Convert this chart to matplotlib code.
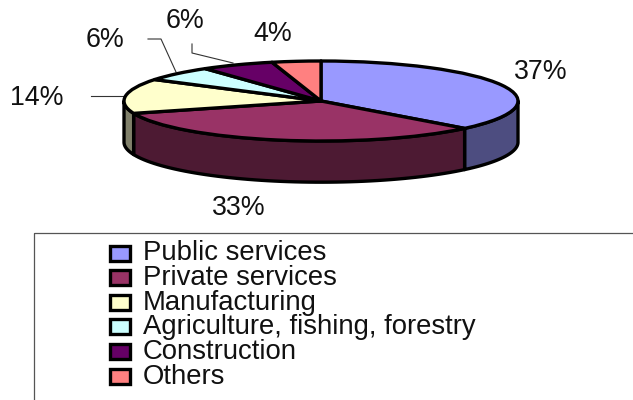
import numpy as np
import matplotlib
matplotlib.use("Agg")
import matplotlib.pyplot as plt
from matplotlib.patches import Rectangle

plt.rcParams['font.family'] = ['Liberation Sans', 'DejaVu Sans']

sectors = ["Public services", "Private services", "Manufacturing",
           "Agriculture, fishing, forestry", "Construction", "Others"]
shares = [37, 33, 14, 6, 6, 4]
top_colors = ["#9999ff", "#993366", "#ffffcc", "#ccffff", "#660066", "#ff8080"]
side_colors = ["#4d4d80", "#4d1a33", "#80806a", "#668080", "#330033", "#804040"]

W, H = 633, 400
fig = plt.figure(figsize=(W / 100, H / 100), dpi=100)

# overlay in pixel units for labels, leader lines and the legend
page = fig.add_axes([0, 0, 1, 1])
page.set_xlim(0, W)
page.set_ylim(H, 0)
page.axis("off")

# pie top is flattened by letting the axes stretch the unit circle
left, right, top, bottom = 124, 518, 61, 141
ax = fig.add_axes([left / W, 1 - bottom / H, (right - left) / W, (bottom - top) / H])
edge = 2.4
ax.pie(shares, colors=top_colors, startangle=90, counterclock=False, radius=1,
       wedgeprops=dict(edgecolor="black", linewidth=edge, joinstyle="round", clip_on=False))
ax.set_aspect("auto")
ax.set_xlim(-1, 1)
ax.set_ylim(-1, 1)
ax.axis("off")

# front rim, only the part between 90 and 270 degrees from twelve o'clock shows
depth = 1.03
ends = np.cumsum(shares) / np.sum(shares) * 360
starts = np.r_[0, ends[:-1]]
for a0, a1, c in zip(starts, ends, side_colors):
    a0, a1 = max(a0, 90), min(a1, 270)
    if a1 <= a0:
        continue
    t = np.radians(np.linspace(a0, a1, 60))
    xs = np.sin(t)
    ys = np.cos(t)
    ax.fill(np.r_[xs, xs[::-1]], np.r_[ys, ys[::-1] - depth], facecolor=c,
            edgecolor="black", linewidth=edge, joinstyle="round", clip_on=False, zorder=0.5)

# leader lines
leader_x = [[91, 125], [148, 161, 176], [192, 192, 233]]
leader_y = [[96, 96], [39, 39, 72], [44, 53, 63]]
for lx, ly in zip(leader_x, leader_y):
    page.plot(lx, ly, color="#333333", linewidth=0.8)

# percent labels
label_x = [541, 239, 37, 105, 185, 273]
label_y = [72, 208, 98, 40, 21, 34]
for v, x, y in zip(shares, label_x, label_y):
    page.text(x, y, f"{v}%", fontsize=19.3, color="#111111", ha="center", va="center")

# legend box runs off the page on the right
page.add_patch(Rectangle((34, 233), 640, 180, facecolor="none", edgecolor="#555555",
                         linewidth=0.9, clip_on=True))
for i, (name, c) in enumerate(zip(sectors, top_colors)):
    y = 253 + i * 24.6
    page.add_patch(Rectangle((110, y - 7.5), 20, 15, facecolor=c, edgecolor="black", linewidth=2.4))
    page.text(143, y + 0.5, name, fontsize=19.8, color="#111111", ha="left", va="center")

fig.savefig("out.png", dpi=100)
